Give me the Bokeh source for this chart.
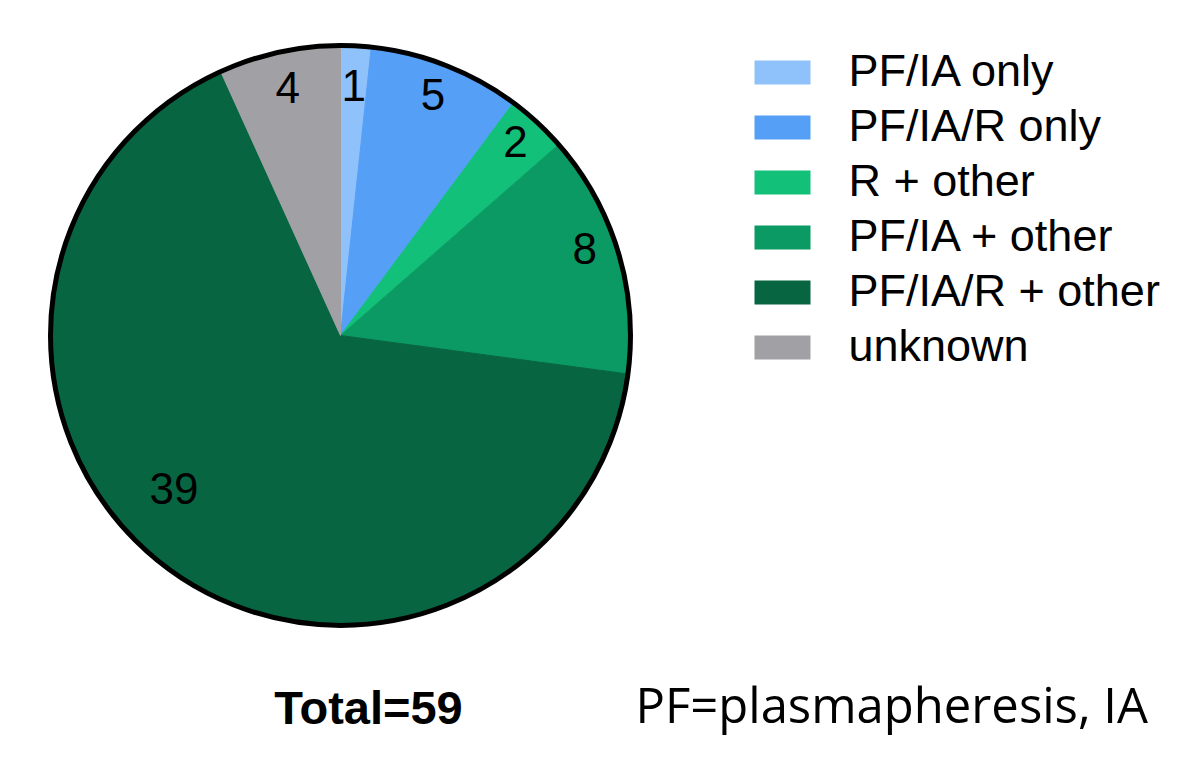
import math
from bokeh.plotting import figure
from bokeh.models import Range1d, ColumnDataSource
from bokeh.core.properties import value
from bokeh.embed import file_html
from bokeh.resources import INLINE

# ---- data ----
categories = ["PF/IA only", "PF/IA/R only", "R + other", "PF/IA + other", "PF/IA/R + other", "unknown"]
counts = [1, 5, 2, 8, 39, 4]
colors = ["#8fc1fa", "#559ff7", "#12c07a", "#0b9a63", "#076641", "#a1a1a5"]
total_label = "Total=59"
footnote = "PF=plasmapheresis, IA"

# ---- style / layout (screen-pixel coordinates, y measured downward) ----
W, H = 1172, 741
CX, CY, R = 340, 335, 290
label_r_frac = [0.85, 0.875, 0.89, 0.89, 0.79, 0.86]
label_angle_shift = [0, 0, 0, 2, -10, 0]  # degrees
TXT_SHIFT = 0.37  # empirical baseline correction, in em

p = figure(width=W, height=H, output_backend="svg", toolbar_location=None,
           x_range=Range1d(0, W), y_range=Range1d(-H, 0),
           min_border=0, outline_line_color=None)
p.axis.visible = False
p.grid.visible = False
p.background_fill_color = "white"
p.border_fill_color = "white"

total = sum(counts)
starts, ends, mids = [], [], []
acc = 0.0
for c in counts:
    a0 = math.pi / 2 - 2 * math.pi * acc / total
    acc += c
    a1 = math.pi / 2 - 2 * math.pi * acc / total
    starts.append(a0)
    ends.append(a1)
    mids.append((a0 + a1) / 2)

src = ColumnDataSource(dict(start=starts, end=ends, color=colors, cat=categories))
p.wedge(x=CX, y=-CY, radius=R, start_angle="start", end_angle="end", direction="clock",
        fill_color="color", line_color="color", line_width=1, source=src)
p.circle(x=CX, y=-CY, radius=R, fill_color=None, line_color="black", line_width=5)


def baseline(screen_y, fs):
    # screen_y: desired visual baseline (px from top)
    return -(screen_y - TXT_SHIFT * fs)


# slice labels
FS_LAB = 44
lx, ly, lt = [], [], []
for i, c in enumerate(counts):
    ang = mids[i] + math.radians(label_angle_shift[i])
    r = R * label_r_frac[i]
    sx = CX + r * math.cos(ang)
    sy = CY - r * math.sin(ang)
    lx.append(sx)
    ly.append(baseline(sy + 12, FS_LAB))
    lt.append(str(c))
p.text(x=lx, y=ly, text=lt, text_align="center", text_baseline="alphabetic",
       text_font=value("Liberation Sans"), text_font_size=f"{FS_LAB}px", text_color="black")

# legend
FS_LEG = 45
sq_x = 782
tx = 848
row0 = 72
step = 55
rows = [row0 + step * i for i in range(len(categories))]
p.rect(x=[sq_x] * len(categories), y=[-r for r in rows], width=56, height=24,
       fill_color=colors, line_color=None)
p.text(x=[tx] * len(categories), y=[baseline(r + 15, FS_LEG) for r in rows], text=categories,
       text_align="left", text_baseline="alphabetic",
       text_font=value("Liberation Sans"), text_font_size=f"{FS_LEG}px", text_color="black")

# bottom texts
FS_TOT = 47
FS_FOOT = 49
p.text(x=[368], y=[baseline(724, FS_TOT)], text=[total_label], text_align="center",
       text_baseline="alphabetic", text_font=value("Liberation Sans"),
       text_font_size=f"{FS_TOT}px", text_font_style="bold", text_color="black")
p.text(x=[635], y=[baseline(722, FS_FOOT)], text=[footnote], text_align="left",
       text_baseline="alphabetic", text_font=value("Open Sans"),
       text_font_size=f"{FS_FOOT}px", text_color="black")

open("out.html", "w").write(file_html(p, INLINE))
